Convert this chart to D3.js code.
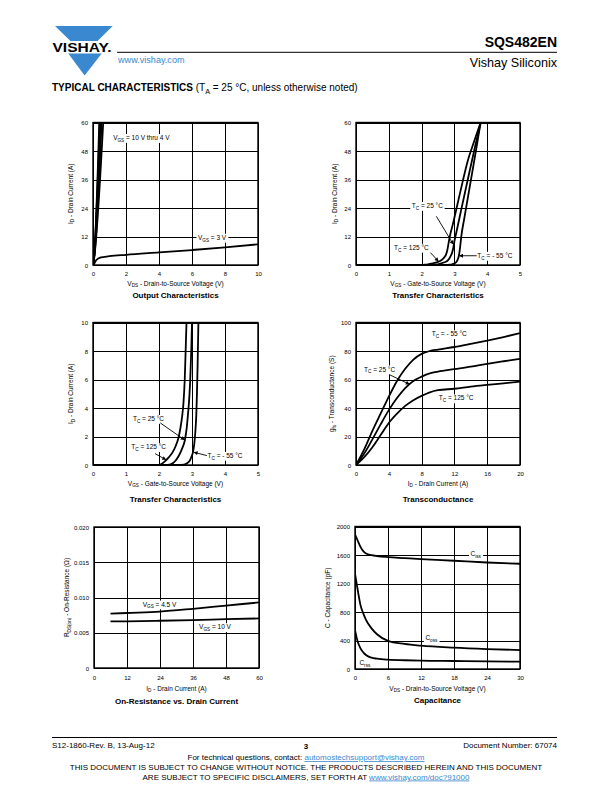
<!DOCTYPE html>
<html><head><meta charset="utf-8">
<script src="https://cdn.jsdelivr.net/npm/d3@7"></script>
<style>
body{margin:0;background:#fff}
svg{display:block}
text{font-family:"Liberation Sans",Arial,Helvetica,sans-serif}
</style>
</head><body>
<svg id="page" width="612" height="792" viewBox="0 0 612 792"></svg>
<script>
// ---------------- DATA ----------------
// Output characteristics: [VDS (V), ID (A)]
const outXTicks = [0, 2, 4, 6, 8, 10];
const outYTicks = [0, 12, 24, 36, 48, 60];
const outVgs10 = [[0,0],[0.06,3],[0.38,60]];
const outVgs8  = [[0,0],[0.06,3],[0.41,60]];
const outVgs6  = [[0,0],[0.06,3],[0.45,60]];
const outVgs5  = [[0,0],[0.07,3],[0.52,60]];
const outVgs4  = [[0,0],[0.07,3],[0.62,60]];
const outVgs3  = [[0,0],[0.08,0.6],[0.15,1.6],[0.25,2.4],[0.4,3.0],[0.7,3.4],[1,3.7],[2,4.3],[4,5.3],[6,6.3],[8,7.4],[10,8.7]];

// Transfer characteristics: [VGS (V), ID (A)]
const trXTicks = [0, 1, 2, 3, 4, 5];
const trYTicksA = [0, 12, 24, 36, 48, 60];
const trYTicksB = [0, 2, 4, 6, 8, 10];
const trTc125 = [[0,0],[2.0,0],[2.1,0.1],[2.2,0.3],[2.3,0.55],[2.4,0.85],[2.5,1.3],[2.6,2.0],[2.65,2.6],[2.7,3.4],[2.74,4.3],[2.78,6.0],[2.82,9.0],[2.86,12],[2.95,17],[3.1,26],[3.25,35],[3.4,43.5],[3.6,52],[3.8,60]];
const trTc25  = [[0,0],[2.2,0],[2.35,0.05],[2.5,0.3],[2.6,0.65],[2.7,1.15],[2.78,1.7],[2.84,2.6],[2.88,3.6],[2.92,4.8],[2.95,6.2],[2.98,8.2],[3.0,10],[3.04,12.5],[3.1,16.3],[3.2,22.8],[3.4,35.5],[3.6,48],[3.8,60]];
const trTcM55 = [[0,0],[2.6,0],[2.75,0.03],[2.85,0.12],[2.93,0.3],[2.98,0.55],[3.03,0.9],[3.07,1.5],[3.1,2.3],[3.13,3.5],[3.15,5],[3.17,7],[3.19,9.5],[3.21,12],[3.3,19.5],[3.4,27.5],[3.5,35.5],[3.6,43.5],[3.7,51.7],[3.8,60]];

// Transconductance: [ID (A), gfs (S)]
const gfsXTicks = [0, 4, 8, 12, 16, 20];
const gfsYTicks = [0, 20, 40, 60, 80, 100];
const gfsTcM55 = [[0,0],[1,11],[2,24],[3,36],[4,48],[5,59],[6,67.5],[7,74],[8,78],[9,80],[10,81],[12,82.8],[14,85],[16,87.3],[18,89.8],[20,92.5]];
const gfsTc25  = [[0,0],[1,8],[2,18],[3,28.5],[4,38.5],[5,47],[6,54],[7,59],[8,62],[9,64.3],[10,65.6],[12,67.3],[14,69],[16,71],[18,72.8],[20,74.5]];
const gfsTc125 = [[0,0],[1,5.5],[2,12.5],[3,21],[4,29.5],[5,36],[6,41.5],[7,45.5],[8,48.5],[9,51],[10,52.5],[12,53.5],[14,55],[16,56.2],[18,57.3],[20,58.5]];

// On-resistance: [ID (A), RDS(on) (ohm)]
const rdsXTicks = [0, 12, 24, 36, 48, 60];
const rdsYTicks = [0, 0.005, 0.010, 0.015, 0.020];
const rdsVgs45 = [[6,0.0077],[12,0.0078],[24,0.0080],[36,0.0084],[48,0.00885],[60,0.0093]];
const rdsVgs10 = [[6,0.0066],[12,0.00662],[24,0.0067],[36,0.0068],[48,0.00692],[60,0.00703]];

// Capacitance: [VDS (V), C (pF)]
const capXTicks = [0, 6, 12, 18, 24, 30];
const capYTicks = [0, 400, 800, 1200, 1600, 2000];
const capCiss = [[0,1888],[0.5,1800],[1,1715],[1.5,1655],[2,1622],[3,1598],[4,1585],[6,1570],[9,1556],[12,1542],[18,1519],[24,1495],[30,1477]];
const capCoss = [[0,1340],[0.5,1105],[1,897],[1.5,780],[2,690],[3,570],[4,488],[6,395],[9,352],[12,327],[18,299],[24,280],[30,266]];
const capCrss = [[0,547],[0.5,383],[1,290],[1.5,234],[2,196],[3,159],[4,145],[6,131],[9,123],[12,117],[18,112],[24,107],[30,103]];

// ---------------- DRAWING ----------------
const svg = d3.select("#page");
const BLUE = "#3a88d0";
const defs = svg.append("defs");
defs.append("marker").attr("id","arr").attr("viewBox","0 0 10 10")
  .attr("refX",10).attr("refY",5).attr("markerWidth",5).attr("markerHeight",4)
  .attr("markerUnits","userSpaceOnUse").attr("orient","auto")
  .append("path").attr("d","M0,0L10,5L0,10z").attr("fill","#000");

function rich(textSel, segs, size){
  let shifted = false;
  segs.forEach(s => {
    const t = textSel.append("tspan").text(s.t);
    if (s.sub){ t.attr("font-size", size*0.72).attr("dy", size*0.28); shifted = true; }
    else if (shifted){ t.attr("dy", -size*0.28); shifted = false; }
  });
}

function drawChart(c){
  const g = svg.append("g");
  const x = d3.scaleLinear().domain(c.xd).range([c.l, c.r]);
  const y = d3.scaleLinear().domain(c.yd).range([c.b, c.t]);
  const clipId = "clip" + c.id;
  defs.append("clipPath").attr("id", clipId).append("rect")
    .attr("x", c.l).attr("y", c.t).attr("width", c.r - c.l).attr("height", c.b - c.t);

  const gx = g.append("g").attr("transform", `translate(0,${c.b})`)
    .call(d3.axisBottom(x).tickValues(c.xt).tickFormat(c.xf || d3.format("d"))
      .tickSizeInner(-(c.b - c.t)).tickSizeOuter(0));
  gx.select(".domain").remove();
  gx.selectAll("line").attr("stroke","#000").attr("stroke-width",1).attr("shape-rendering","crispEdges");
  gx.selectAll("text").attr("y", c.tickY - c.b).attr("dy",0)
    .attr("font-size",6).attr("fill","#000");
  gx.attr("font-family",null).attr("font-size",null);

  const gy = g.append("g").attr("transform", `translate(${c.l},0)`)
    .call(d3.axisLeft(y).tickValues(c.yt).tickFormat(c.yf || d3.format("d"))
      .tickSizeInner(-(c.r - c.l)).tickSizeOuter(0).tickPadding(5));
  gy.select(".domain").remove();
  gy.selectAll("line").attr("stroke","#000").attr("stroke-width",1).attr("shape-rendering","crispEdges");
  gy.selectAll("text").attr("font-size",6).attr("fill","#000").attr("dy","0.34em");
  gy.attr("font-family",null).attr("font-size",null);

  (c.labels || []).forEach(L => {
    const t = g.append("text").attr("x", x(L.x)).attr("y", y(L.y)).attr("font-size",6.5).attr("fill","#000");
    rich(t, L.segs, 6.5);
    if (L.bg){
      const bb = t.node().getBBox();
      g.insert("rect", () => t.node()).attr("x", bb.x-1.5).attr("y", bb.y).attr("width", bb.width+3)
        .attr("height", bb.height).attr("fill","#fff");
    }
  });

  const line = d3.line().x(d => x(d[0])).y(d => y(d[1])).curve(d3.curveMonotoneX);
  g.append("g").attr("clip-path", `url(#${clipId})`).selectAll("path").data(c.series).join("path")
    .attr("d", line).attr("fill","none").attr("stroke","#000").attr("stroke-width",1.8)
    .attr("stroke-linejoin","round");

  (c.arrows || []).forEach(A => {
    g.append("line").attr("x1", x(A[0])).attr("y1", y(A[1])).attr("x2", x(A[2])).attr("y2", y(A[3]))
      .attr("stroke","#000").attr("stroke-width",0.9).attr("marker-end","url(#arr)");
  });

  g.append("rect").attr("x", c.l).attr("y", c.t).attr("width", c.r - c.l).attr("height", c.b - c.t)
    .attr("fill","none").attr("stroke","#000").attr("stroke-width",1.4);

  const xt = g.append("text").attr("x", (c.l + c.r)/2).attr("y", c.axisY)
    .attr("text-anchor","middle").attr("font-size",6.5).attr("fill","#000");
  rich(xt, c.xTitle, 6.5);
  const yt = g.append("text").attr("transform", `translate(${c.yTitleX},${(c.t + c.b)/2}) rotate(-90)`)
    .attr("text-anchor","middle").attr("font-size",6.5).attr("fill","#000");
  rich(yt, c.yTitle, 6.5);
  g.append("text").attr("x", (c.l + c.r)/2).attr("y", c.titleY).attr("text-anchor","middle")
    .attr("font-size",8).attr("font-weight","bold").attr("fill","#000").text(c.title);
}

const S = (t) => ({t}), SUB = (t) => ({t, sub:true});
const tc = (v) => [S("T"), SUB("C"), S(" = " + v + " °C")];

drawChart({id:1, l:93, r:258, t:122.5, b:265, xd:[0,10], yd:[0,60], xt:outXTicks, yt:outYTicks,
  tickY:276, axisY:285.5, titleY:298, yTitleX:72.5,
  xTitle:[S("V"),SUB("DS"),S(" - Drain-to-Source Voltage (V)")],
  yTitle:[S("I"),SUB("D"),S(" - Drain Current (A)")],
  title:"Output Characteristics",
  series:[outVgs10,outVgs8,outVgs6,outVgs5,outVgs4,outVgs3],
  labels:[{x:1.22,y:52.6,bg:true,segs:[S("V"),SUB("GS"),S(" = 10 V thru 4 V")]},
          {x:6.36,y:10.6,bg:true,segs:[S("V"),SUB("GS"),S(" = 3 V")]}]});

drawChart({id:2, l:356, r:520, t:122.5, b:265, xd:[0,5], yd:[0,60], xt:trXTicks, yt:trYTicksA,
  tickY:276, axisY:285.5, titleY:298, yTitleX:336.5,
  xTitle:[S("V"),SUB("GS"),S(" - Gate-to-Source Voltage (V)")],
  yTitle:[S("I"),SUB("D"),S(" - Drain Current (A)")],
  title:"Transfer Characteristics",
  series:[trTc125,trTc25,trTcM55],
  labels:[{x:1.70,y:24,bg:true,segs:tc("25")},
          {x:1.16,y:6.4,bg:true,segs:tc("125")},
          {x:3.70,y:3.0,bg:true,segs:tc("- 55")}],
  arrows:[[2.45,20.5,2.97,8.6],[2.27,5.2,2.52,1.5],[3.68,3.9,3.14,3.9]]});

drawChart({id:3, l:93, r:258, t:322.5, b:465, xd:[0,5], yd:[0,10], xt:trXTicks, yt:trYTicksB,
  tickY:476.3, axisY:485.6, titleY:501.5, yTitleX:73.3,
  xTitle:[S("V"),SUB("GS"),S(" - Gate-to-Source Voltage (V)")],
  yTitle:[S("I"),SUB("D"),S(" - Drain Current (A)")],
  title:"Transfer Characteristics",
  series:[trTc125,trTc25,trTcM55],
  labels:[{x:1.21,y:3.09,bg:true,segs:tc("25")},
          {x:1.16,y:1.11,bg:true,segs:tc("125")},
          {x:3.47,y:0.5,bg:true,segs:tc("- 55")}],
  arrows:[[2.04,2.95,2.78,1.75],[1.88,0.8,2.22,0.36],[3.45,0.66,3.05,0.9]]});

drawChart({id:4, l:356, r:520, t:322.5, b:465, xd:[0,20], yd:[0,100], xt:gfsXTicks, yt:gfsYTicks,
  tickY:476.3, axisY:485.6, titleY:501.5, yTitleX:334,
  xTitle:[S("I"),SUB("D"),S(" - Drain Current (A)")],
  yTitle:[S("g"),SUB("fs"),S(" - Transconductance (S)")],
  title:"Transconductance",
  series:[gfsTcM55,gfsTc25,gfsTc125],
  labels:[{x:9.23,y:90.3,bg:true,segs:tc("- 55")},
          {x:0.98,y:65.6,bg:true,segs:tc("25")},
          {x:10.1,y:45.3,bg:true,segs:tc("125")}],
  arrows:[[4.15,63.2,6.55,56.6]]});

drawChart({id:5, l:94, r:259, t:527, b:668, xd:[0,60], yd:[0,0.02], xt:rdsXTicks, yt:rdsYTicks,
  yf:d => d === 0 ? "0" : d3.format(".3f")(d),
  tickY:679.5, axisY:690.5, titleY:703.5, yTitleX:69,
  xTitle:[S("I"),SUB("D"),S(" - Drain Current (A)")],
  yTitle:[S("R"),SUB("DS(on)"),S(" - On-Resistance (Ω)")],
  title:"On-Resistance vs. Drain Current",
  series:[rdsVgs45,rdsVgs10],
  labels:[{x:17.7,y:0.00872,bg:true,segs:[S("V"),SUB("GS"),S(" = 4.5 V")]},
          {x:38.2,y:0.0055,bg:true,segs:[S("V"),SUB("GS"),S(" = 10 V")]}]});

drawChart({id:6, l:355, r:520, t:526.5, b:669, xd:[0,30], yd:[0,2000], xt:capXTicks, yt:capYTicks,
  tickY:680, axisY:690.5, titleY:703, yTitleX:330.3,
  xTitle:[S("V"),SUB("DS"),S(" - Drain-to-Source Voltage (V)")],
  yTitle:[S("C - Capacitance (pF)")],
  title:"Capacitance",
  series:[capCiss,capCoss,capCrss],
  labels:[{x:21.0,y:1590,bg:true,segs:[S("C"),SUB("iss")]},
          {x:12.8,y:405,bg:true,segs:[S("C"),SUB("oss")]},
          {x:0.8,y:58,bg:true,segs:[S("C"),SUB("rss")]}]});

// ---------------- HEADER ----------------
const hdr = svg.append("g");
hdr.append("polygon").attr("points","55,26 112.7,26 97.5,41 70.5,41").attr("fill",BLUE);
hdr.append("polygon").attr("points","68.3,53.5 101.7,53.5 84.6,75.5").attr("fill",BLUE);
hdr.append("text").attr("x",52.5).attr("y",52.3).attr("font-size",13.4).attr("font-weight","bold")
  .attr("textLength",59).attr("lengthAdjust","spacingAndGlyphs").attr("fill","#000").text("VISHAY.");
hdr.append("line").attr("x1",117).attr("x2",557).attr("y1",52.3).attr("y2",52.3).attr("stroke","#000").attr("stroke-width",1);
hdr.append("text").attr("x",557).attr("y",46.5).attr("text-anchor","end").attr("font-size",14)
  .attr("font-weight","bold").attr("fill","#000").text("SQS482EN");
hdr.append("text").attr("x",118).attr("y",62.5).attr("font-size",9.1).attr("fill",BLUE).text("www.vishay.com");
hdr.append("text").attr("x",557).attr("y",67).attr("text-anchor","end").attr("font-size",12.6)
  .attr("fill","#000").text("Vishay Siliconix");
const tcT = hdr.append("text").attr("x",52).attr("y",91).attr("font-size",10).attr("fill","#000");
tcT.append("tspan").attr("font-weight","bold").text("TYPICAL CHARACTERISTICS");
rich(tcT, [S(" (T"),SUB("A"),S(" = 25 °C, unless otherwise noted)")], 10);

// ---------------- FOOTER ----------------
const ftr = svg.append("g").attr("font-size",8).attr("fill","#000");
ftr.append("line").attr("x1",52).attr("x2",557).attr("y1",737.5).attr("y2",737.5).attr("stroke","#000").attr("stroke-width",1);
ftr.append("text").attr("x",52).attr("y",748).attr("font-size",8).text("S12-1860-Rev. B, 13-Aug-12");
ftr.append("text").attr("x",306).attr("y",748.5).attr("text-anchor","middle").attr("font-size",8).attr("font-weight","bold").text("3");
ftr.append("text").attr("x",557).attr("y",748).attr("text-anchor","end").attr("font-size",8).text("Document Number: 67074");
const f2 = ftr.append("text").attr("x",306).attr("y",760).attr("text-anchor","middle").attr("font-size",8);
f2.append("tspan").text("For technical questions, contact: ");
f2.append("tspan").attr("fill",BLUE).attr("text-decoration","underline").text("automostechsupport@vishay.com");
ftr.append("text").attr("x",306).attr("y",770).attr("text-anchor","middle").attr("font-size",8)
  .text("THIS DOCUMENT IS SUBJECT TO CHANGE WITHOUT NOTICE. THE PRODUCTS DESCRIBED HEREIN AND THIS DOCUMENT");
const f4 = ftr.append("text").attr("x",306).attr("y",779.5).attr("text-anchor","middle").attr("font-size",8);
f4.append("tspan").text("ARE SUBJECT TO SPECIFIC DISCLAIMERS, SET FORTH AT ");
f4.append("tspan").attr("fill",BLUE).attr("text-decoration","underline").text("www.vishay.com/doc?91000");
</script>
</body></html>
